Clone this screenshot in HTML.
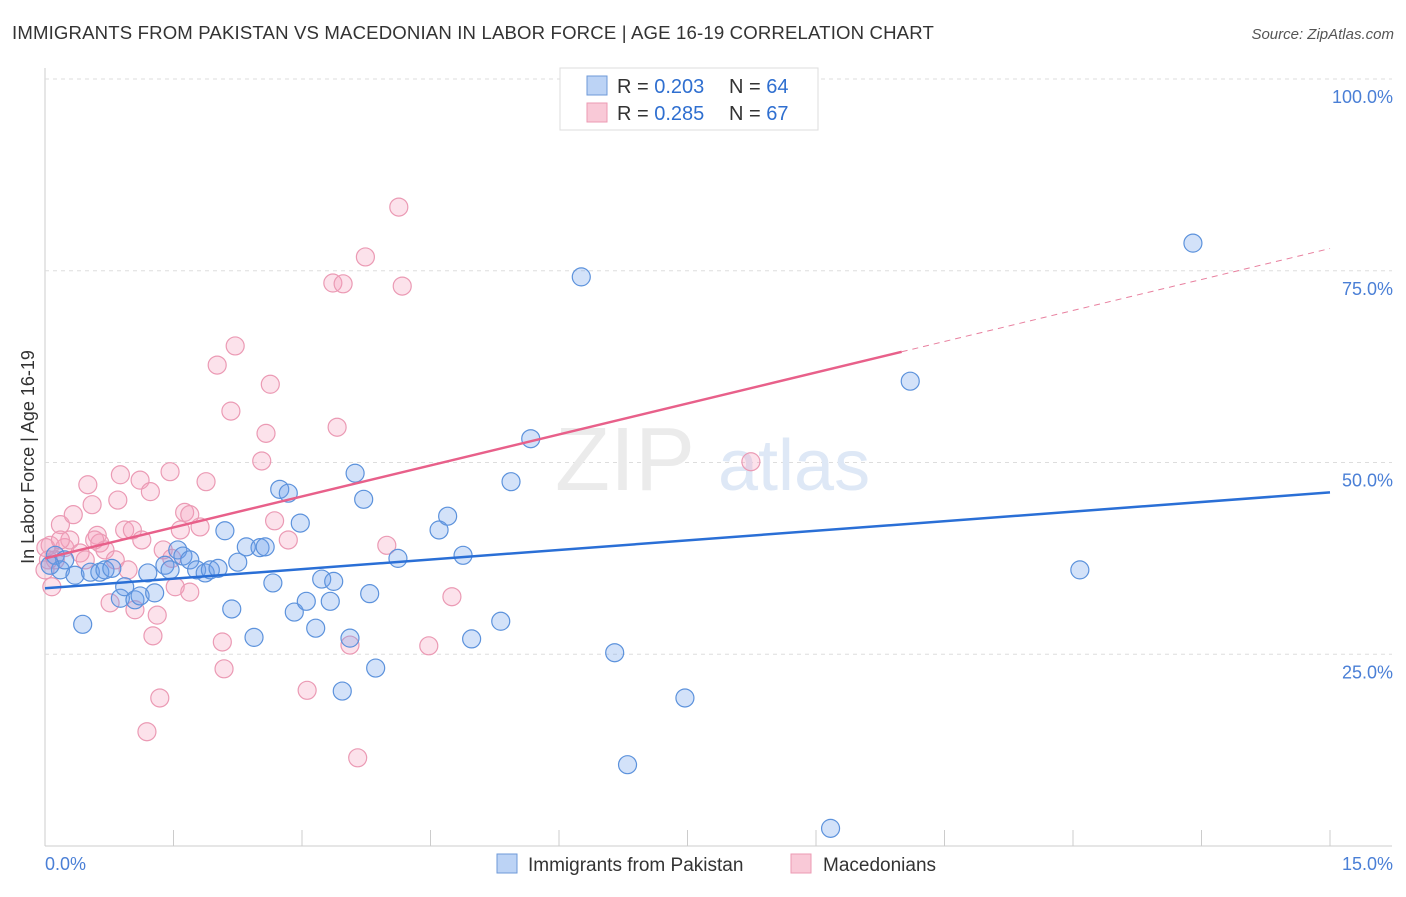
<!DOCTYPE html>
<html><head><meta charset="utf-8"><style>
body{margin:0;background:#fff;font-family:"Liberation Sans",sans-serif;}
svg text{font-family:"Liberation Sans",sans-serif;}
</style></head><body>
<svg id="chart" width="1406" height="892" viewBox="0 0 1406 892" xmlns="http://www.w3.org/2000/svg">
<text x="12" y="39" font-size="18.6" letter-spacing="0.15" fill="#333">IMMIGRANTS FROM PAKISTAN VS MACEDONIAN IN LABOR FORCE | AGE 16-19 CORRELATION CHART</text>
<text x="1394" y="39" font-size="15" fill="#555" text-anchor="end" font-style="italic">Source: ZipAtlas.com</text>
<g id="grid"></g>
<text x="555" y="490" font-size="90" fill="#ebebeb" font-family="Liberation Serif">ZIP</text>
<text x="718" y="490" font-size="72" fill="#dee8f6">atlas</text>
<g id="marks"></g>
<text transform="translate(34,457) rotate(-90)" font-size="18" fill="#333" text-anchor="middle">In Labor Force | Age 16-19</text>
<g>
<rect x="560" y="68" width="258" height="62" fill="#fff" stroke="#ddd"/>
<rect x="587" y="76" width="20" height="19" fill="#bcd3f5" stroke="#6e9ad8"/>
<rect x="587" y="103" width="20" height="19" fill="#f9c9d7" stroke="#ec9ab3"/>
<text x="617" y="93" font-size="20" fill="#333">R = <tspan fill="#2f6fd0">0.203</tspan></text>
<text x="729" y="93" font-size="20" fill="#333">N = <tspan fill="#2f6fd0">64</tspan></text>
<text x="617" y="120" font-size="20" fill="#333">R = <tspan fill="#2f6fd0">0.285</tspan></text>
<text x="729" y="120" font-size="20" fill="#333">N = <tspan fill="#2f6fd0">67</tspan></text>
</g>
<g>
<rect x="497" y="854" width="20" height="19" fill="#bcd3f5" stroke="#6e9ad8"/>
<text x="528" y="871" font-size="19" fill="#333">Immigrants from Pakistan</text>
<rect x="791" y="854" width="20" height="19" fill="#f9c9d7" stroke="#ec9ab3"/>
<text x="823" y="871" font-size="19" fill="#333">Macedonians</text>
</g>
</svg>
<script>
const blueX=[0.12,0.18,0.23,0.35,0.44,0.53,0.64,0.70,0.78,0.88,0.93,1.05,1.11,1.20,1.28,1.40,1.46,1.55,1.61,1.69,1.77,1.87,1.93,2.02,2.10,2.18,2.25,2.35,2.44,2.51,2.57,2.66,2.74,2.84,2.91,2.98,3.05,3.16,3.23,3.33,3.37,3.47,3.56,3.62,3.72,3.79,3.86,4.12,4.60,4.70,4.88,4.98,5.32,5.44,5.67,6.26,6.65,6.80,7.47,9.17,10.10,12.08,13.40,0.06];
const blueY=[37.9,36.0,37.3,35.3,28.9,35.7,35.7,36.0,36.2,32.3,33.8,32.1,32.6,35.6,33.0,36.6,36.0,38.6,37.8,37.3,36.0,35.6,36.0,36.2,41.1,30.9,37.0,39.0,27.2,38.9,39.0,34.3,46.5,46.0,30.5,42.1,31.9,28.4,34.8,31.9,34.5,20.2,27.1,48.6,45.2,32.9,23.2,37.5,41.2,43.0,37.9,27.0,29.3,47.5,53.1,74.2,25.2,10.6,19.3,2.3,60.6,36.0,78.6,36.6];
const pinkX=[0.06,0.08,0.12,0.18,0.23,0.29,0.33,0.41,0.50,0.55,0.61,0.64,0.70,0.76,0.82,0.85,0.88,0.93,0.97,1.02,1.05,1.11,1.13,1.23,1.26,1.31,1.34,1.19,1.38,1.46,1.48,1.52,1.58,1.63,1.69,1.69,1.81,1.88,2.01,2.07,2.09,2.17,2.22,2.53,2.58,2.63,2.68,2.84,3.06,3.36,3.41,3.48,3.56,3.65,3.74,3.99,4.13,4.17,4.48,4.75,8.24,0.01,0.04,0.0,0.18,0.47,0.58];
const pinkY=[39.2,33.8,37.3,41.9,38.9,39.9,43.2,38.2,47.1,44.5,40.5,39.5,38.6,31.7,37.3,45.1,48.4,41.2,36.0,41.2,30.8,47.7,39.9,46.2,27.4,30.1,19.3,14.9,38.6,48.8,37.5,33.8,41.2,43.5,43.2,33.1,41.6,47.5,62.7,26.6,23.1,56.7,65.2,50.2,53.8,60.2,42.4,39.9,20.3,73.4,54.6,73.3,26.2,11.5,76.8,39.2,83.3,73.0,26.1,32.5,50.1,38.9,37.3,36.0,39.9,37.3,39.9];
const blueTrend=[33.6,46.1];
const pinkTrend=[37.5,77.9];
const pinkSolidEnd=10.0;
const yTicks=[25,50,75,100];
const yTickLabels=["25.0%","50.0%","75.0%","100.0%"];
const xTickLabels=["0.0%","15.0%"];

const NS="http://www.w3.org/2000/svg";
const X0=45,X1=1330,Y0=846,YTOP=79;
const sx=v=>X0+(v/15)*(X1-X0);
const sy=v=>Y0-(v/100)*(Y0-YTOP);
function mk(tag,attrs,parent){const e=document.createElementNS(NS,tag);for(const k in attrs)e.setAttribute(k,attrs[k]);parent.appendChild(e);return e;}
const grid=document.getElementById('grid');
const marks=document.getElementById('marks');
const ax=mk('line',{x1:X0,y1:68,x2:X0,y2:Y0,stroke:'#ccc'},grid);


const xa=mk('line',{x1:X0,y1:Y0,x2:1392,y2:Y0,stroke:'#ccc'},grid);


yTicks.forEach((t,i)=>{
 const l=mk('line',{x1:X0,y1:sy(t),x2:1392,y2:sy(t),stroke:'#ddd','stroke-dasharray':'4,4'},grid);
 
 
 const tx=mk('text',{x:1393,y:sy(t)+24,'font-size':18,fill:'#4a7fd6','text-anchor':'end'},grid);
 tx.textContent=yTickLabels[i];
 
 
});
for(let i=1;i<=10;i++){
 const x=sx(i*1.5);
 const t=mk('line',{x1:x,y1:830,x2:x,y2:Y0,stroke:'#ccc'},grid);
 
 
}
const xl0=mk('text',{x:45,y:870,'font-size':18,fill:'#4a7fd6'},grid);
xl0.textContent=xTickLabels[0];


const xl1=mk('text',{x:1393,y:870,'font-size':18,fill:'#4a7fd6','text-anchor':'end'},grid);
xl1.textContent=xTickLabels[1];



pinkX.forEach((x,i)=>{
 const c=mk('circle',{cx:sx(x),cy:sy(pinkY[i]),r:9,fill:'rgba(244,160,188,0.3)',stroke:'#eb9ab4','stroke-width':1.2},marks);
 
 
});
blueX.forEach((x,i)=>{
 const c=mk('circle',{cx:sx(x),cy:sy(blueY[i]),r:9,fill:'rgba(110,160,235,0.3)',stroke:'#5c92dc','stroke-width':1.2},marks);
 
 
});
const bt=mk('line',{x1:sx(0),y1:sy(blueTrend[0]),x2:sx(15),y2:sy(blueTrend[1]),stroke:'#2a6fd6','stroke-width':2.5},marks);


const pAt=v=>pinkTrend[0]+(pinkTrend[1]-pinkTrend[0])*v/15;
const pt=mk('line',{x1:sx(0),y1:sy(pAt(0)),x2:sx(pinkSolidEnd),y2:sy(pAt(pinkSolidEnd)),stroke:'#e8608a','stroke-width':2.5},marks);


const pd=mk('line',{x1:sx(pinkSolidEnd),y1:sy(pAt(pinkSolidEnd)),x2:sx(15),y2:sy(pAt(15)),stroke:'#e8809f','stroke-width':1,'stroke-dasharray':'6,5'},marks);


</script>
</body></html>
